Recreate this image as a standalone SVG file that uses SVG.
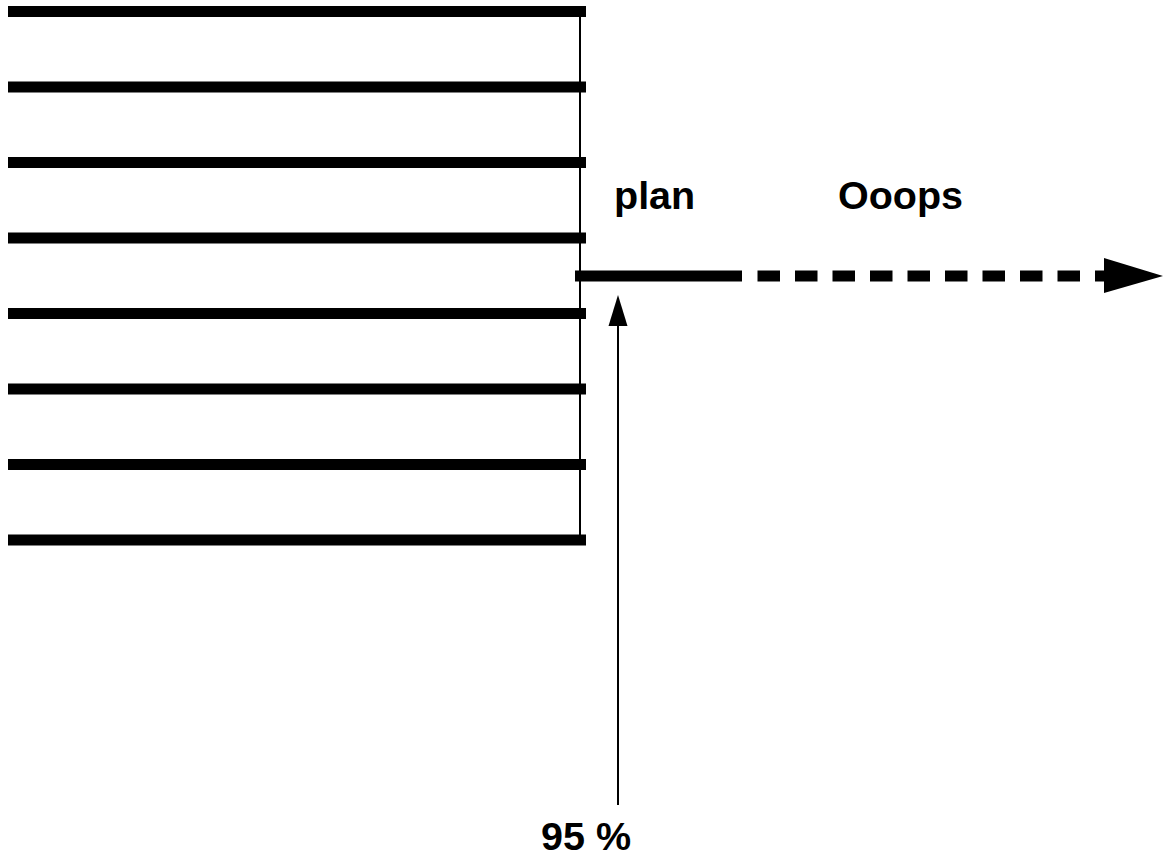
<svg xmlns="http://www.w3.org/2000/svg" width="1163" height="856" viewBox="0 0 1163 856">
  <style>
    .bar { stroke: #000; stroke-width: 11; fill: none; }
    .thin { stroke: #000; stroke-width: 2; fill: none; }
    .label { font-family: "Liberation Sans", Arial, sans-serif; font-weight: bold; font-size: 39.5px; fill: #000; }
  </style>
  <rect width="1163" height="856" fill="#fff"/>

  <g id="stack">
    <line class="bar" x1="8" y1="11.5" x2="586" y2="11.5"/>
    <line class="bar" x1="8" y1="87" x2="586" y2="87"/>
    <line class="bar" x1="8" y1="162.5" x2="586" y2="162.5"/>
    <line class="bar" x1="8" y1="238" x2="586" y2="238"/>
    <line class="bar" x1="8" y1="313.5" x2="586" y2="313.5"/>
    <line class="bar" x1="8" y1="389" x2="586" y2="389"/>
    <line class="bar" x1="8" y1="464.5" x2="586" y2="464.5"/>
    <line class="bar" x1="8" y1="540" x2="586" y2="540"/>
    <line class="thin" x1="580" y1="12" x2="580" y2="540"/>
  </g>

  <g id="connectors">
    <!-- planned path: solid part -->
    <line class="bar" x1="575" y1="276" x2="742" y2="276"/>
    <!-- unplanned continuation: dashed -->
    <line class="bar" x1="757.5" y1="276" x2="1106" y2="276" stroke-dasharray="22.5 15"/>
    <polygon points="1104,258 1163,276 1104,293" fill="#000"/>
    <!-- 95 % pointer -->
    <line class="thin" x1="618" y1="805" x2="618" y2="320"/>
    <polygon points="618,295 627.5,326 608.5,326" fill="#000"/>
  </g>

  <g id="labels">
    <text class="label" x="614" y="209">plan</text>
    <text class="label" x="838" y="209">Ooops</text>
    <text class="label" x="541" y="850">95 %</text>
  </g>
</svg>
